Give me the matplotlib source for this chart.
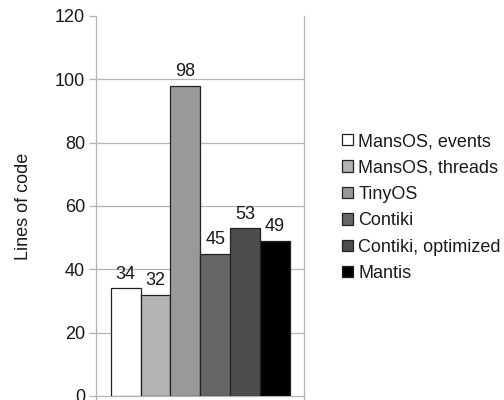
import matplotlib
matplotlib.use("Agg")
import matplotlib.pyplot as plt
from matplotlib.patches import Patch

systems = ["MansOS, events", "MansOS, threads", "TinyOS", "Contiki",
           "Contiki, optimized", "Mantis"]
lines_of_code = [34, 32, 98, 45, 53, 49]
bar_colors = ["#ffffff", "#b3b3b3", "#999999", "#666666", "#4d4d4d", "#000000"]
y_ticks = [0, 20, 40, 60, 80, 100, 120]

plt.rcParams["font.family"] = ["Liberation Sans", "DejaVu Sans"]
plt.rcParams["font.size"] = 13

fig = plt.figure(figsize=(5.04, 4.0), dpi=100)
ax = fig.add_axes([96 / 504, 4 / 400, 208 / 504, 380 / 400])

grid_c = "#b3b3b3"
txt_c = "#1a1a1a"
x = list(range(len(systems)))
ax.bar(x, lines_of_code, width=1.0, color=bar_colors,
       edgecolor="#222222", linewidth=0.9, zorder=3)
for xi, v in zip(x, lines_of_code):
    ax.annotate(str(v), (xi, v), xytext=(0, 4), textcoords="offset points",
                ha="center", va="bottom", color=txt_c, fontsize=13)

ax.set_xlim(-1.0, 5.98)
ax.set_ylim(0, 120)
ax.set_yticks(y_ticks)
for t in y_ticks[1:-1]:
    ax.axhline(t, color=grid_c, linewidth=0.9, zorder=1)
ax.set_xticks([-1.0, 5.98])
ax.set_xticklabels([])
ax.tick_params(axis="y", colors=grid_c, labelcolor=txt_c, length=5, width=0.9,
               labelsize=13, pad=3)
ax.tick_params(axis="x", colors=grid_c, length=4, width=0.9)

for side in ["left", "right", "bottom"]:
    ax.spines[side].set_color(grid_c)
    ax.spines[side].set_linewidth(0.9)
ax.spines["top"].set_visible(False)

ax.set_ylabel("Lines of code", color=txt_c, fontsize=13, labelpad=16)

handles = [Patch(facecolor=c, edgecolor="#222222", linewidth=0.9) for c in bar_colors]
fig.legend(handles, systems, loc="center left", bbox_to_anchor=(342 / 504, 0.481),
           frameon=False, handlelength=0.6, handleheight=0.6, handletextpad=0.3,
           labelspacing=0.52, fontsize=13, labelcolor=txt_c, borderpad=0,
           borderaxespad=0)

fig.savefig("out.png", dpi=100)
